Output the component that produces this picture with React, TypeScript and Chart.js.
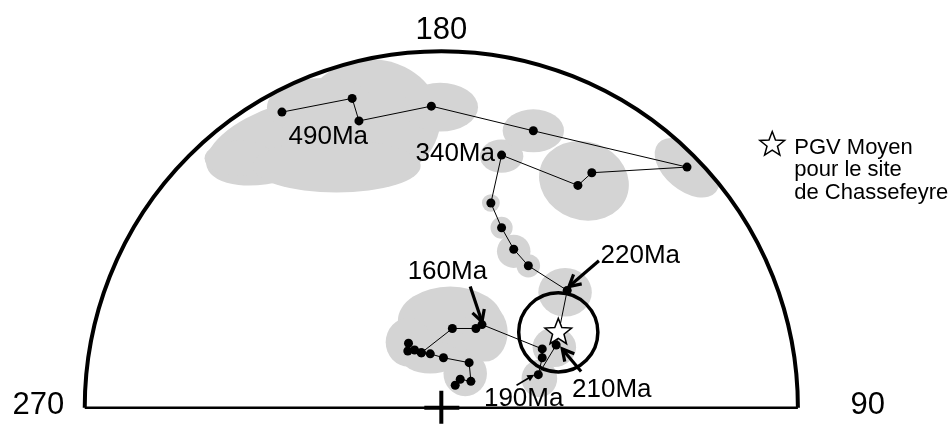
import React, { useEffect, useRef } from "react";
import { Chart, registerables } from "chart.js";

Chart.register(...registerables);

// Projection units: radius of the hemisphere = 1, centre at (0,0); 270 left, 90 right, 180 top
const X_MIN = -1.225;
const X_MAX = 1.4167;
const Y_MIN = -0.0361;
const Y_MAX = 1.1444;

// Apparent polar wander path (poles), youngest branch
const youngBranch: [number, number][] = [
  [0.039, 0.064], [0.053, 0.081], [0.083, 0.075], [0.078, 0.128], [0.006, 0.142],
  [-0.031, 0.153], [-0.056, 0.156], [-0.075, 0.164], [-0.094, 0.161], [-0.092, 0.183],
];

// Main path from ~150 Ma back to 490 Ma
const mainPath: [number, number][] = [
  [-0.056, 0.156], [0.031, 0.225], [0.097, 0.225], [0.114, 0.236], [0.283, 0.167],
  [0.283, 0.142], [0.272, 0.094], [0.322, 0.178], [0.353, 0.333], [0.244, 0.403],
  [0.203, 0.45], [0.169, 0.511], [0.139, 0.581], [0.169, 0.717], [0.383, 0.631],
  [0.422, 0.667], [0.689, 0.683], [0.258, 0.786], [-0.028, 0.856], [-0.231, 0.814],
  [-0.25, 0.878], [-0.447, 0.839],
];

// Mean VGP of the Chassefeyre site and its A95 circle
const meanPole: [number, number] = [0.328, 0.214];
const meanPoleA95 = 0.111;

// Confidence ovals: [cx, cy, semi-axis x, semi-axis y, rotation deg]
const confidenceOvals: [number, number, number, number, number][] = [
  [-0.433, 0.756, 0.236, 0.106, -18],
  [-0.197, 0.817, 0.194, 0.172, 0],
  [-0.003, 0.853, 0.106, 0.069, 0],
  [-0.567, 0.708, 0.097, 0.05, 0],
  [-0.294, 0.686, 0.236, 0.075, 0],
  [-0.336, 0.853, 0.153, 0.083, 0],
  [0.025, 0.247, 0.147, 0.097, 0],
  [-0.092, 0.186, 0.064, 0.069, 0],
  [0.067, 0.097, 0.061, 0.064, 0],
  [-0.031, 0.144, 0.083, 0.047, 0],
  [0.122, 0.214, 0.064, 0.083, 0],
  [0.317, 0.172, 0.061, 0.056, 0],
  [0.275, 0.083, 0.05, 0.053, 0],
  [0.347, 0.328, 0.075, 0.069, 0],
  [0.139, 0.581, 0.025, 0.025, 0],
  [0.169, 0.511, 0.031, 0.031, 0],
  [0.203, 0.444, 0.047, 0.047, 0],
  [0.244, 0.403, 0.033, 0.033, 0],
  [0.169, 0.714, 0.061, 0.047, 0],
  [0.258, 0.786, 0.086, 0.061, 0],
  [0.4, 0.644, 0.128, 0.111, 20],
  [0.689, 0.681, 0.106, 0.064, 40],
];

// Axis labels (declination) and their anchor
const axisLabels = ["180", "270", "90"];
const axisLabelAnchors: [number, number][] = [[0, 1.072], [-1.13, 0.006], [1.196, 0.006]];

// Age labels
const ageLabels = ["490Ma", "340Ma", "220Ma", "160Ma", "210Ma", "190Ma"];
const ageLabelAnchors: [number, number][] = [
  [-0.317, 0.769], [0.039, 0.722], [0.558, 0.431], [0.017, 0.386], [0.478, 0.05], [0.231, 0.025],
];
// arrows: [label index, x1, y1, x2, y2, thick(1)/thin(0)]
const ageArrows: [number, number, number, number, number, number][] = [
  [2, 0.442, 0.417, 0.358, 0.344, 1],
  [3, 0.081, 0.344, 0.114, 0.244, 1],
  [4, 0.392, 0.103, 0.339, 0.167, 1],
  [5, 0.211, 0.064, 0.261, 0.094, 0],
];

const legendLines = ["PGV Moyen", "pour le site", "de Chassefeyre"];
const legendAnchor: [number, number] = [0.928, 0.747];

const FONT = '"Liberation Sans", Arial, sans-serif';

function drawStar(ctx: CanvasRenderingContext2D, x: number, y: number, R: number, r: number) {
  ctx.beginPath();
  for (let i = 0; i < 10; i++) {
    const a = -Math.PI / 2 + (i * Math.PI) / 5;
    const rr = i % 2 === 0 ? R : r;
    const px = x + rr * Math.cos(a);
    const py = y + rr * Math.sin(a);
    if (i === 0) ctx.moveTo(px, py);
    else ctx.lineTo(px, py);
  }
  ctx.closePath();
  ctx.fillStyle = "#fff";
  ctx.fill();
  ctx.strokeStyle = "#000";
  ctx.lineWidth = 1.5;
  ctx.stroke();
}

function drawArrow(ctx: CanvasRenderingContext2D, x1: number, y1: number, x2: number, y2: number, thick: boolean) {
  const ang = Math.atan2(y2 - y1, x2 - x1);
  ctx.save();
  ctx.strokeStyle = "#000";
  ctx.fillStyle = "#000";
  ctx.lineCap = "butt";
  if (thick) {
    ctx.lineWidth = 3.2;
    ctx.beginPath();
    ctx.moveTo(x1, y1);
    ctx.lineTo(x2, y2);
    ctx.stroke();
    const h = 13;
    ctx.beginPath();
    ctx.moveTo(x2 - h * Math.cos(ang - 0.5), y2 - h * Math.sin(ang - 0.5));
    ctx.lineTo(x2, y2);
    ctx.lineTo(x2 - h * Math.cos(ang + 0.5), y2 - h * Math.sin(ang + 0.5));
    ctx.stroke();
  } else {
    ctx.lineWidth = 1.6;
    const h = 8;
    ctx.beginPath();
    ctx.moveTo(x1, y1);
    ctx.lineTo(x2 - h * 0.7 * Math.cos(ang), y2 - h * 0.7 * Math.sin(ang));
    ctx.stroke();
    ctx.beginPath();
    ctx.moveTo(x2, y2);
    ctx.lineTo(x2 - h * Math.cos(ang - 0.45), y2 - h * Math.sin(ang - 0.45));
    ctx.lineTo(x2 - h * Math.cos(ang + 0.45), y2 - h * Math.sin(ang + 0.45));
    ctx.closePath();
    ctx.fill();
  }
  ctx.restore();
}

const pgvPlugin = {
  id: "pgvPlugin",
  beforeDatasetsDraw(chart: any) {
    const { ctx } = chart;
    const xs = chart.scales.x;
    const ys = chart.scales.y;
    const px = (v: number) => xs.getPixelForValue(v);
    const py = (v: number) => ys.getPixelForValue(v);
    const cx = px(0);
    const cy = py(0);
    const r = px(1) - cx;

    // confidence ovals clipped to hemisphere
    ctx.save();
    ctx.beginPath();
    ctx.arc(cx, cy, r, Math.PI, 2 * Math.PI);
    ctx.closePath();
    ctx.clip();
    ctx.fillStyle = "#d4d4d4";
    for (const [ex, ey, rx, ry, rot] of confidenceOvals) {
      ctx.beginPath();
      ctx.ellipse(px(ex), py(ey), px(rx) - cx, cy - py(ry), (rot * Math.PI) / 180, 0, 2 * Math.PI);
      ctx.fill();
    }
    ctx.restore();

    // frame
    ctx.save();
    ctx.strokeStyle = "#000";
    ctx.lineWidth = 4;
    ctx.beginPath();
    ctx.arc(cx, cy, r, Math.PI, 2 * Math.PI);
    ctx.stroke();
    ctx.lineWidth = 2.5;
    ctx.beginPath();
    ctx.moveTo(cx - r, cy);
    ctx.lineTo(cx + r, cy);
    ctx.stroke();
    // centre cross
    ctx.lineWidth = 4;
    ctx.beginPath();
    ctx.moveTo(cx, cy - 17);
    ctx.lineTo(cx, cy + 16);
    ctx.moveTo(cx - 17, cy);
    ctx.lineTo(cx + 18, cy);
    ctx.stroke();

    // axis labels
    ctx.fillStyle = "#000";
    ctx.font = `31px ${FONT}`;
    ctx.textAlign = "center";
    ctx.textBaseline = "middle";
    axisLabels.forEach((t, i) => {
      const [ax, ay] = axisLabelAnchors[i];
      ctx.fillText(t, px(ax), py(ay));
    });
    ctx.restore();
  },
  afterDatasetsDraw(chart: any) {
    const { ctx } = chart;
    const xs = chart.scales.x;
    const ys = chart.scales.y;
    const px = (v: number) => xs.getPixelForValue(v);
    const py = (v: number) => ys.getPixelForValue(v);
    const cx = px(0);

    ctx.save();
    // A95 circle
    ctx.strokeStyle = "#000";
    ctx.lineWidth = 3.5;
    ctx.beginPath();
    ctx.arc(px(meanPole[0]), py(meanPole[1]), px(meanPoleA95) - cx, 0, 2 * Math.PI);
    ctx.stroke();
    drawStar(ctx, px(meanPole[0]), py(meanPole[1]), 14, 6);

    // age labels
    ctx.fillStyle = "#000";
    ctx.font = `26px ${FONT}`;
    ctx.textAlign = "center";
    ctx.textBaseline = "middle";
    ageLabels.forEach((t, i) => {
      const [ax, ay] = ageLabelAnchors[i];
      ctx.fillText(t, px(ax), py(ay));
    });
    for (const [, x1, y1, x2, y2, thick] of ageArrows) {
      drawArrow(ctx, px(x1), py(y1), px(x2), py(y2), thick === 1);
    }

    // legend
    const lx = px(legendAnchor[0]);
    const ly = py(legendAnchor[1]);
    drawStar(ctx, lx, ly, 13, 5.5);
    ctx.fillStyle = "#000";
    ctx.font = `22px ${FONT}`;
    ctx.textAlign = "left";
    ctx.textBaseline = "alphabetic";
    legendLines.forEach((t, i) => {
      ctx.fillText(t, lx + 22, ly + 9 + i * 22.5);
    });
    ctx.restore();
  },
};

export default function App() {
  const ref = useRef<HTMLCanvasElement>(null);
  useEffect(() => {
    document.body.style.margin = "0";
    const toPts = (arr: [number, number][]) => arr.map(([x, y]) => ({ x, y }));
    const lineStyle = {
      showLine: true,
      borderColor: "#000",
      borderWidth: 1,
      pointRadius: 4.5,
      pointBackgroundColor: "#000",
      pointBorderColor: "#000",
      pointBorderWidth: 0,
      tension: 0,
    };
    const chart = new Chart(ref.current as HTMLCanvasElement, {
      type: "scatter",
      data: {
        datasets: [
          { data: toPts(youngBranch), ...lineStyle } as any,
          { data: toPts(mainPath), ...lineStyle } as any,
        ],
      },
      options: {
        animation: false,
        responsive: false,
        layout: { padding: 0 },
        plugins: { legend: { display: false }, tooltip: { enabled: false }, title: { display: false } },
        scales: {
          x: { type: "linear", min: X_MIN, max: X_MAX, display: false },
          y: { type: "linear", min: Y_MIN, max: Y_MAX, display: false },
        },
      },
      plugins: [pgvPlugin],
    });
    return () => chart.destroy();
  }, []);
  return (
    <div style={{ width: 951, height: 425, background: "#fff" }}>
      <canvas ref={ref} width={951} height={425} style={{ display: "block" }} />
    </div>
  );
}
